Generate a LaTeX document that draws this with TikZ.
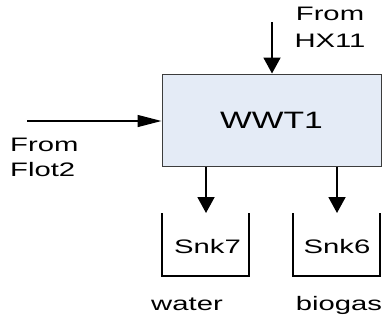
\documentclass[tikz,border=0pt]{standalone}
\usepackage{fontspec}
\setmainfont{Liberation Sans}
\usetikzlibrary{arrows.meta}
\definecolor{boxfill}{RGB}{228,235,246}
\definecolor{boxline}{RGB}{60,60,60}
\newcommand\stx[1]{\scalebox{1.5}[1]{#1}}
\newcommand\stxb[1]{\scalebox{1.42}[1]{#1}}
\tikzset{
  lbl/.style={inner sep=0pt, font=\fontsize{19.5}{24}\selectfont},
  vflow/.style={line width=1.9pt, -{Triangle[length=16pt,width=17pt]}},
  hflow/.style={line width=1.4pt, -{Triangle[length=24pt,width=12pt]}},
  sink/.style={line width=1.2pt, black},
  unitbox/.style={draw=boxline, line width=1pt, fill=boxfill, minimum width=219pt, minimum height=92pt, inner sep=0pt, font=\fontsize{23.7}{28}\selectfont},
}
\begin{document}
\begin{tikzpicture}[x=1pt,y=1pt]
\useasboundingbox (0,0) rectangle (385,-322);
% main unit
\node[unitbox] (wwt) at (271.5,-120) {\stxb{WWT1}};
% sinks
\coordinate (s7a) at (162,-213); \coordinate (s7b) at (162,-276);
\coordinate (s7c) at (249,-276); \coordinate (s7d) at (249,-213);
\draw[sink] (s7a) -- (s7b) -- (s7c) -- (s7d);
\coordinate (s6a) at (293,-213); \coordinate (s6b) at (293,-276);
\coordinate (s6c) at (380,-276); \coordinate (s6d) at (380,-213);
\draw[sink] (s6a) -- (s6b) -- (s6c) -- (s6d);
\node[lbl, anchor=base] (snk7) at (207.5,-253) {\stx{Snk7}};
\node[lbl, anchor=base] (snk6) at (337,-253) {\stx{Snk6}};
\node[lbl, anchor=base] (water) at (187,-310) {\stx{water}};
\node[lbl, anchor=base] (biogas) at (339,-310) {\stx{biogas}};
% inputs
\node[lbl, anchor=base] (hx1) at (330,-20) {\stx{From}};
\node[lbl, anchor=base] (hx2) at (330,-47) {\stx{HX11}};
\node[lbl, anchor=base west] (fl1) at (10,-151) {\stx{From}};
\node[lbl, anchor=base west] (fl2) at (10,-176) {\stx{Flot2}};
\coordinate (hxs) at (272,-22);
\coordinate (fls) at (27,-121);
\draw[vflow] (hxs) -- (hxs |- wwt.north);
\draw[hflow] (fls) -- (fls -| wwt.west);
% outputs
\coordinate (o7) at (206,-213);
\coordinate (o6) at (337,-213);
\draw[vflow] (o7 |- wwt.south) -- (o7);
\draw[vflow] (o6 |- wwt.south) -- (o6);
\end{tikzpicture}
\end{document}
